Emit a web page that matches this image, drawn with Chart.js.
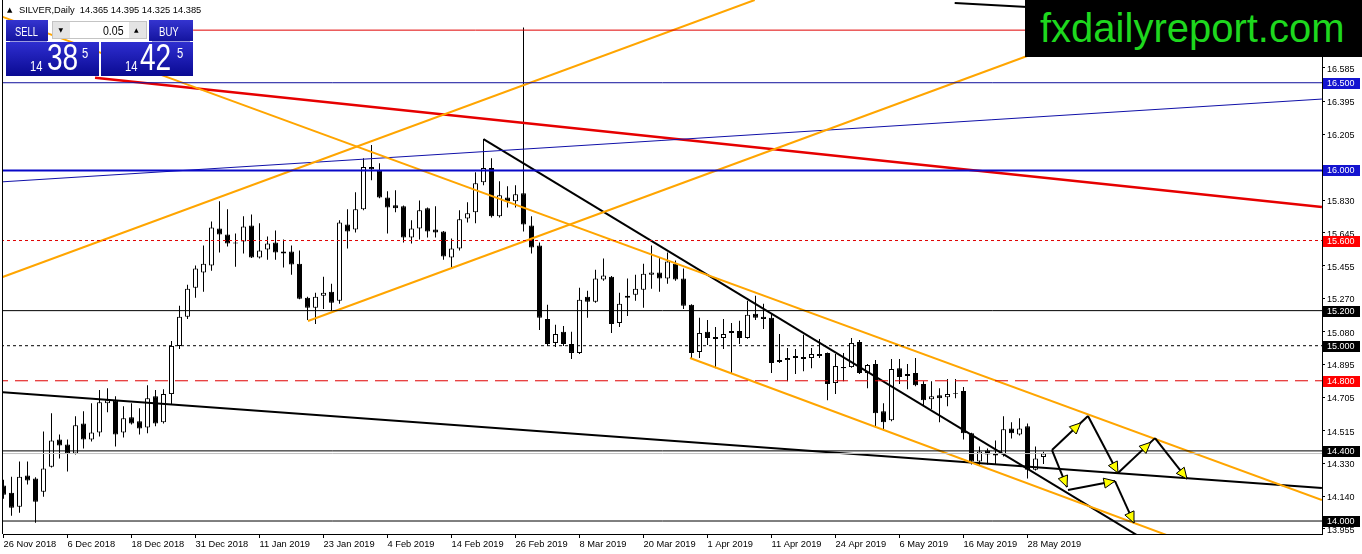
<!DOCTYPE html>
<html><head><meta charset="utf-8">
<script src="https://cdn.jsdelivr.net/npm/chart.js@4.4.1/dist/chart.umd.min.js"></script>
<style>
html,body{margin:0;padding:0;background:#fff;overflow:hidden;}
#wrap{position:relative;width:1362px;height:554px;}
canvas{position:absolute;left:0;top:0;}
.ov{position:absolute;font-family:'Liberation Sans',Arial,sans-serif;white-space:nowrap;}
.btn{position:absolute;background:linear-gradient(#3434d0,#14149e);}
.big{position:absolute;background:linear-gradient(#2e2ed0,#0a0a92);}
.t{position:absolute;font-family:'Liberation Sans',Arial,sans-serif;color:#fff;white-space:nowrap;transform-origin:0 0;}
</style></head><body>
<div id="wrap">
<canvas id="c" width="1362" height="554"></canvas>
<div class="ov" style="left:7px;top:6px;font-family:'DejaVu Sans';font-size:7px;line-height:8px;">▲</div>
<div class="ov" id="hdrtxt" style="left:19px;top:4px;font-size:9.3px;line-height:12px;color:#000;"></div>
<div class="btn" style="left:6px;top:20px;width:42px;height:21px"></div>
<div class="btn" style="left:149px;top:20px;width:44px;height:21px"></div>
<div style="position:absolute;left:52px;top:21px;width:95px;height:18px;background:#fff;border:1px solid #c4c4c4;box-sizing:border-box"></div>
<div style="position:absolute;left:53px;top:22px;width:17px;height:16px;background:#e4e4e4;"></div>
<div style="position:absolute;left:129px;top:22px;width:17px;height:16px;background:#e4e4e4;"></div>
<div class="big" style="left:6px;top:42px;width:93px;height:34px"></div>
<div class="big" style="left:101px;top:42px;width:92px;height:34px"></div>
<div style="position:absolute;left:10px;top:41px;width:37px;height:1px;background:#9a9ae0"></div>
<div style="position:absolute;left:152px;top:41px;width:38px;height:1px;background:#9a9ae0"></div>
<div class="t" style="left:15px;top:25.8px;font-size:12px;line-height:12px;transform:scaleX(0.78)">SELL</div>
<div class="t" style="left:159px;top:25.8px;font-size:12px;line-height:12px;transform:scaleX(0.8)">BUY</div>
<div class="t" style="left:102.5px;top:24.8px;font-size:12px;line-height:12px;color:#000;transform:scaleX(0.88)">0.05</div>
<div class="ov" style="left:58.5px;top:26px;font-family:'DejaVu Sans';font-size:6px;line-height:7px;color:#000">▼</div>
<div class="ov" style="left:134px;top:26px;font-family:'DejaVu Sans';font-size:6px;line-height:7px;color:#000">▲</div>
<div class="t" id="bidA" style="left:30px;top:59.2px;font-size:14px;line-height:14px;transform:scaleX(0.8)"></div>
<div class="t" id="bidB" style="left:47px;top:40.3px;font-size:36px;line-height:36px;transform:scaleX(0.78)"></div>
<div class="t" id="bidC" style="left:82px;top:46.2px;font-size:14px;line-height:14px;transform:scaleX(0.8)"></div>
<div class="t" id="askA" style="left:125px;top:59.2px;font-size:14px;line-height:14px;transform:scaleX(0.8)"></div>
<div class="t" id="askB" style="left:140px;top:40.3px;font-size:36px;line-height:36px;transform:scaleX(0.78)"></div>
<div class="t" id="askC" style="left:177px;top:46.2px;font-size:14px;line-height:14px;transform:scaleX(0.8)"></div>
<div style="position:absolute;left:1025px;top:0;width:337px;height:57px;background:#000;"></div>
<div class="ov" style="left:1040px;top:8px;font-size:40px;line-height:40px;color:#1ed81e;">fxdailyreport.com</div>
</div>
<script>
const symbolName = 'SILVER,Daily';
const dateLabels = ['26 Nov 2018','6 Dec 2018','18 Dec 2018','31 Dec 2018','11 Jan 2019','23 Jan 2019','4 Feb 2019','14 Feb 2019','26 Feb 2019','8 Mar 2019','20 Mar 2019','1 Apr 2019','11 Apr 2019','24 Apr 2019','6 May 2019','16 May 2019','28 May 2019'];
const dateTickIdx = [0,8,16,24,32,40,48,56,64,72,80,88,96,104,112,120,128];
const priceTicks = [16.585,16.395,16.205,15.830,15.645,15.455,15.270,15.080,14.895,14.705,14.515,14.330,14.140,13.955];

const opens = [14.202,14.161,14.081,14.259,14.242,14.167,14.310,14.465,14.437,14.385,
14.557,14.465,14.505,14.672,14.689,14.505,14.592,14.569,14.534,14.712,
14.563,14.724,14.999,15.165,15.331,15.417,15.457,15.669,15.635,15.589,
15.594,15.686,15.503,15.549,15.589,15.537,15.537,15.468,15.274,15.216,
15.285,15.308,15.256,15.692,15.663,15.778,16.019,16.001,15.846,15.801,
15.795,15.617,15.669,15.784,15.663,15.652,15.503,15.555,15.726,15.761,
15.933,16.013,15.738,15.846,15.824,15.869,15.686,15.572,15.153,15.016,
15.079,15.010,14.959,15.279,15.251,15.377,15.394,15.130,15.285,15.291,
15.319,15.405,15.417,15.383,15.468,15.383,15.233,14.964,15.079,15.050,
15.044,15.073,15.084,15.044,15.182,15.165,15.159,14.918,14.918,14.941,
14.936,14.930,14.941,14.959,14.787,14.878,14.878,15.021,14.844,14.895,
14.626,14.575,14.872,14.838,14.844,14.781,14.695,14.718,14.706,14.729,
14.741,14.500,14.339,14.402,14.385,14.379,14.528,14.494,14.540,14.293,
14.365];
const highs = [14.236,14.253,14.339,14.339,14.250,14.511,14.615,14.494,14.465,14.598,
14.626,14.672,14.747,14.758,14.712,14.655,14.672,14.643,14.775,14.747,
14.752,15.027,15.228,15.348,15.457,15.572,15.709,15.824,15.778,15.640,
15.738,15.749,15.698,15.623,15.657,15.606,15.572,15.543,15.280,15.302,
15.394,15.354,15.715,15.778,15.875,16.070,16.145,16.041,15.881,15.887,
15.800,15.715,15.829,15.789,15.795,15.655,15.612,15.772,15.818,15.990,
16.179,16.070,15.938,15.910,15.915,16.815,15.738,15.589,15.233,15.119,
15.113,15.079,15.331,15.314,15.434,15.497,15.398,15.302,15.383,15.405,
15.468,15.572,15.503,15.532,15.486,15.440,15.236,15.159,15.147,15.107,
15.153,15.130,15.142,15.256,15.285,15.239,15.182,15.067,14.987,14.981,
15.062,14.987,15.039,14.962,14.953,14.959,15.044,15.033,14.895,14.918,
14.672,14.924,14.924,14.895,14.930,14.798,14.798,14.758,14.810,14.810,
14.764,14.503,14.425,14.414,14.460,14.598,14.563,14.586,14.557,14.425,
14.395];
const lows = [14.127,14.030,14.047,14.208,13.990,14.138,14.305,14.357,14.282,14.379,
14.414,14.454,14.482,14.620,14.425,14.477,14.551,14.494,14.500,14.540,
14.557,14.666,14.981,15.153,15.274,15.308,15.428,15.532,15.566,15.451,
15.526,15.500,15.497,15.491,15.491,15.446,15.405,15.265,15.147,15.124,
15.210,15.199,15.239,15.555,15.646,15.772,15.944,15.841,15.640,15.761,
15.589,15.583,15.606,15.617,15.617,15.491,15.446,15.543,15.703,15.698,
15.915,15.732,15.732,15.789,15.789,15.652,15.526,15.090,14.999,14.993,
14.999,14.924,14.953,15.159,15.245,15.371,15.073,15.107,15.170,15.256,
15.216,15.325,15.308,15.354,15.371,15.210,14.930,14.930,15.004,14.872,
14.981,14.844,15.010,15.040,15.147,15.096,14.844,14.901,14.798,14.838,
14.855,14.872,14.930,14.689,14.724,14.798,14.875,14.838,14.758,14.540,
14.517,14.569,14.781,14.752,14.769,14.655,14.638,14.563,14.655,14.701,
14.465,14.322,14.316,14.322,14.322,14.368,14.471,14.488,14.242,14.288,
14.325];
const closes = [14.150,14.076,14.253,14.231,14.110,14.299,14.460,14.431,14.385,14.546,
14.465,14.505,14.678,14.689,14.494,14.586,14.557,14.528,14.701,14.557,
14.724,14.999,15.165,15.325,15.440,15.468,15.675,15.635,15.583,15.583,
15.680,15.503,15.543,15.583,15.532,15.526,15.463,15.268,15.216,15.279,
15.302,15.245,15.703,15.652,15.778,16.019,16.007,15.846,15.789,15.784,
15.617,15.669,15.772,15.652,15.646,15.509,15.555,15.721,15.755,15.927,
16.013,15.738,15.858,15.824,15.864,15.692,15.560,15.159,15.010,15.067,
15.010,14.959,15.262,15.251,15.383,15.400,15.124,15.239,15.274,15.325,
15.411,15.417,15.383,15.480,15.377,15.228,14.959,15.073,15.044,15.039,
15.067,15.084,15.044,15.176,15.159,15.153,14.901,14.907,14.930,14.930,
14.924,14.953,14.953,14.781,14.884,14.872,15.016,14.844,14.890,14.615,
14.563,14.867,14.821,14.827,14.775,14.689,14.712,14.701,14.724,14.724,
14.500,14.339,14.397,14.379,14.374,14.523,14.500,14.528,14.293,14.357,
14.385];
const askSpread = 0.040;

// horizontal levels
const levelValues = [16.800,16.500,16.000,15.600,15.200,15.000,14.800,14.400,14.000];
const levelStartIdx = [23.7,null,null,null,null,null,null,null,null];
// trend lines (bar index, price)
const trendFrom = [[-0.44,15.386],[38.06,15.141],[-0.44,16.881],[85.81,14.930],[-0.44,15.934],[11.44,16.529],[118.9,16.955],[60,16.179],[-0.44,14.736]];
const trendTo   = [[93.9,16.972],[128.3,16.658],[164.8,14.120],[146.4,13.903],[164.8,16.407],[164.8,15.791],[137.06,16.909],[142.06,13.909],[164.8,14.188]];
// projection arrows (bar index, price)
const arrowFrom = [[131.06,14.405],[135.56,14.599],[139.31,14.274],[143.94,14.473],[131.06,14.405],[133.06,14.177],[138.94,14.228]];
const arrowTo   = [[135.56,14.599],[139.31,14.274],[143.94,14.473],[147.94,14.240],[132.94,14.194],[138.94,14.228],[141.31,13.989]];

// ---------- styles ----------
const levelStyle = [
  {c:'#e00000',w:1,d:[],box:null},
  {c:'#10109c',w:1,d:[],box:'#1414d0'},
  {c:'#0808c8',w:2,d:[],box:'#1414d0'},
  {c:'#e00000',w:1,d:[3,3],box:'#ff0000'},
  {c:'#000000',w:1,d:[],box:'#000000'},
  {c:'#000000',w:1,d:[3,3],box:'#000000'},
  {c:'#e00000',w:1,d:[13,7],box:'#ff0000'},
  {c:'#000000',w:1,d:[],box:'#000000'},
  {c:'#000000',w:1,d:[],box:'#000000'}
];
const trendStyle = [
  {c:'#ffa500',w:2},{c:'#ffa500',w:2},{c:'#ffa500',w:2},{c:'#ffa500',w:2},
  {c:'#1010a8',w:1},{c:'#e60000',w:2.5},{c:'#000000',w:2},{c:'#000000',w:2},{c:'#000000',w:2}
];
const arrowTipAt = [0.8,1,0.88,1,1,1,1];

const FONT = "'Liberation Sans', Arial, sans-serif";
const xMin = -0.0625, xMax = xMin + 1319/8;
const yMin = 13.926, yMax = 16.972;

// overlays text
const last = closes.length - 1;
document.getElementById('hdrtxt').textContent = symbolName + '\u00a0\u00a0' + [opens[last],highs[last],lows[last],closes[last]].map(v=>v.toFixed(3)).join(' ');
function splitPrice(v){ const s=v.toFixed(3); return [s.slice(0,2), s.slice(3,5), s.slice(5)]; }
const bp = splitPrice(closes[last]), ap = splitPrice(closes[last]+askSpread);
document.getElementById('bidA').textContent=bp[0];
document.getElementById('bidB').textContent=bp[1];
document.getElementById('bidC').textContent=bp[2];
document.getElementById('askA').textContent=ap[0];
document.getElementById('askB').textContent=ap[1];
document.getElementById('askC').textContent=ap[2];

const idx = opens.map((_,i)=>i);
const wickData = idx.map(i=>({x:i,y:[lows[i],highs[i]]}));
const bodyData = idx.map(i=>({x:i,y:[opens[i],closes[i]]}));
const bodyFill = idx.map(i=> closes[i] > opens[i] ? '#ffffff' : '#000000');

function seg(p1,p2,color,width,dash){
  return {type:'line', data:[{x:p1[0],y:p1[1]},{x:p2[0],y:p2[1]}], borderColor:color, borderWidth:width,
    borderDash:dash||[], pointRadius:0, pointHoverRadius:0, fill:false, tension:0, order:0};
}
const lineSets = [];
levelValues.forEach((v,k)=>{
  const s = levelStyle[k];
  const x0 = levelStartIdx[k]==null ? xMin-1 : levelStartIdx[k];
  lineSets.push(seg([x0,v],[xMax+1,v],s.c,s.w,s.d));
});
lineSets.push(seg([xMin-1,closes[last]],[xMax+1,closes[last]],'#c0c0c0',1,[]));
trendFrom.forEach((p,k)=>{ lineSets.push(seg(p,trendTo[k],trendStyle[k].c,trendStyle[k].w,[])); });

const overlay = {
  id:'overlay',
  afterDatasetsDraw(chart){
    const {ctx, chartArea:a, scales:{x,y}} = chart;
    ctx.save();
    ctx.beginPath(); ctx.rect(a.left,a.top,a.right-a.left,a.bottom-a.top); ctx.clip();
    arrowFrom.forEach((p,k)=>{
      const x1=x.getPixelForValue(p[0]), y1=y.getPixelForValue(p[1]);
      const x2=x.getPixelForValue(arrowTo[k][0]), y2=y.getPixelForValue(arrowTo[k][1]);
      ctx.strokeStyle='#000'; ctx.lineWidth=2;
      ctx.beginPath(); ctx.moveTo(x1,y1); ctx.lineTo(x2,y2); ctx.stroke();
      const f=arrowTipAt[k];
      const tx=x1+(x2-x1)*f, ty=y1+(y2-y1)*f;
      const L=Math.hypot(x2-x1,y2-y1), ux=(x2-x1)/L, uy=(y2-y1)/L;
      const len=11, hw=5;
      const bx=tx-ux*len, by=ty-uy*len;
      ctx.beginPath();
      ctx.moveTo(tx,ty);
      ctx.lineTo(bx-uy*hw, by+ux*hw);
      ctx.lineTo(bx+uy*hw, by-ux*hw);
      ctx.closePath();
      ctx.fillStyle='#ffff00'; ctx.fill();
      ctx.lineWidth=1; ctx.strokeStyle='#000'; ctx.stroke();
    });
    ctx.restore();
  },
  afterDraw(chart){
    const {ctx, chartArea:a, scales:{y}} = chart;
    ctx.save();
    ctx.fillStyle='#000';
    ctx.fillRect(2, 0, 1, a.bottom);
    levelValues.forEach((v,k)=>{
      const s=levelStyle[k];
      if(!s.box) return;
      const yy=Math.round(y.getPixelForValue(v));
      ctx.fillStyle=s.box;
      ctx.fillRect(a.right+1, yy-5, 37, 11);
      ctx.fillStyle='#fff';
      ctx.font='9px '+FONT;
      ctx.textBaseline='middle'; ctx.textAlign='left';
      ctx.fillText(v.toFixed(3), a.right+5, yy+0.5);
    });
    ctx.restore();
  }
};

new Chart(document.getElementById('c'), {
  type:'bar',
  data:{ datasets:[
    ...lineSets,
    {type:'bar', data:bodyData, backgroundColor:bodyFill, borderColor:'#000', borderWidth:1, borderSkipped:false,
     barThickness:5, grouped:false, inflateAmount:0, order:1, clip:0},
    {type:'bar', data:wickData, backgroundColor:'#000', borderWidth:0, barThickness:1,
     grouped:false, inflateAmount:0, order:2, clip:0}
  ]},
  options:{
    responsive:false, animation:false, events:[],
    layout:{padding:{left:3,right:0,top:0,bottom:0}},
    plugins:{legend:{display:false}, tooltip:{enabled:false}},
    scales:{
      x:{type:'linear', min:xMin, max:xMax, offset:false, position:'bottom',
        afterBuildTicks:s=>{ s.ticks = dateTickIdx.map(v=>({value:v})); },
        afterFit:s=>{ s.height=20; s.paddingLeft=0; s.paddingRight=0; },
        ticks:{autoSkip:false, maxRotation:0, minRotation:0, align:'start', padding:1, color:'#000',
          font:{family:FONT, size:9.3}, callback:(v,i)=>dateLabels[i]},
        grid:{display:true, offset:false, drawOnChartArea:false, drawTicks:true, tickLength:4, color:'#000', lineWidth:1},
        border:{display:true, color:'#000', width:1}
      },
      y:{type:'linear', position:'right', min:yMin, max:yMax, beginAtZero:false,
        afterBuildTicks:s=>{ s.ticks = priceTicks.map(v=>({value:v})); },
        afterFit:s=>{ s.width=40; s.paddingTop=0; s.paddingBottom=0; },
        ticks:{padding:2, labelOffset:1.5, color:'#000', font:{family:FONT, size:9}, callback:v=>Number(v).toFixed(3)},
        grid:{drawOnChartArea:false, drawTicks:true, tickLength:3, color:'#000', lineWidth:1},
        border:{display:true, color:'#000', width:1}
      }
    }
  },
  plugins:[overlay]
});
</script>
</body></html>
